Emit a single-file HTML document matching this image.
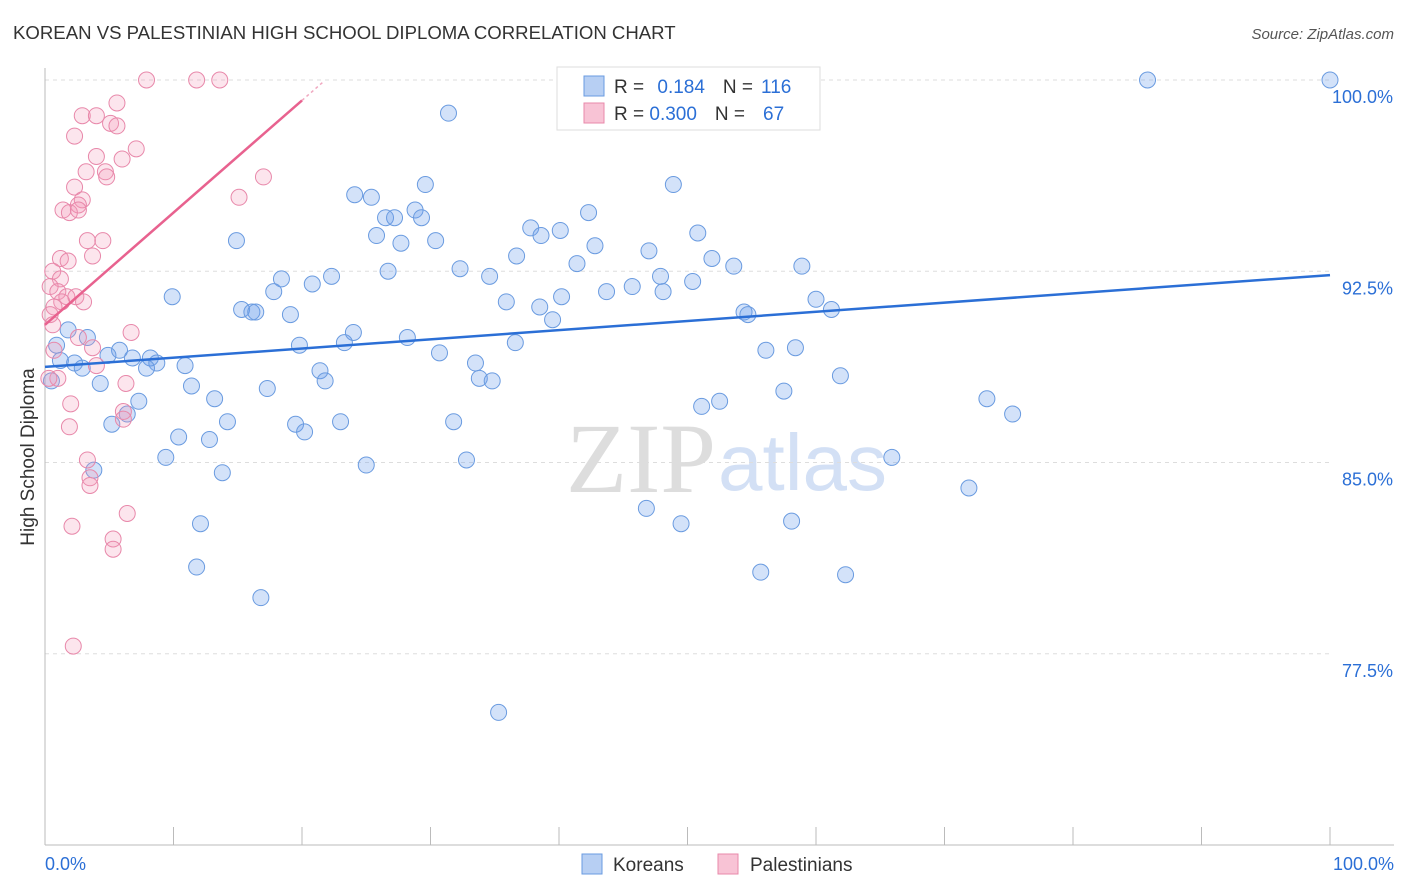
<!DOCTYPE html>
<html><head><meta charset="utf-8"><style>
body{margin:0;background:#fff;font-family:"Liberation Sans",sans-serif}
#wrap{position:relative;width:1406px;height:892px;overflow:hidden}
</style></head><body>
<div id="wrap">
<svg id="svg" width="1406" height="892" xmlns="http://www.w3.org/2000/svg">
<text x="13" y="39" font-size="18.6" fill="#333">KOREAN VS PALESTINIAN HIGH SCHOOL DIPLOMA CORRELATION CHART</text>
<text x="1394" y="39" font-size="15" fill="#555" text-anchor="end" font-style="italic">Source: ZipAtlas.com</text>
<text x="716" y="492" font-size="100" fill="#ddd" text-anchor="end" font-family="Liberation Serif">ZIP</text>
<text x="718" y="490" font-size="80" fill="#d3e0f5">atlas</text>
<text transform="translate(34,457) rotate(-90)" font-size="19" fill="#333" text-anchor="middle">High School Diploma</text>
<g id="grid"></g><g id="ticks"></g><g id="marks"></g><g id="trends"></g>
<g>
<rect x="557" y="67" width="263" height="63" fill="#fff" stroke="#ddd"/>
<rect x="584" y="76" width="20" height="20" fill="#b7cff3" stroke="#6a9be0"/>
<rect x="584" y="103" width="20" height="20" fill="#f8c3d5" stroke="#e888aa"/>
<text x="614" y="93" font-size="19" fill="#333">R = <tspan fill="#2b6fd6" dx="8">0.184</tspan><tspan fill="#333" dx="18">N =</tspan><tspan fill="#2b6fd6" dx="8">116</tspan></text>
<text x="614" y="120" font-size="19" fill="#333">R = <tspan fill="#2b6fd6">0.300</tspan><tspan fill="#333" dx="18">N =</tspan><tspan fill="#2b6fd6" dx="18">67</tspan></text>
</g>
<g>
<rect x="582" y="854" width="20" height="20" fill="#b7cff3" stroke="#6a9be0"/>
<text x="613" y="871" font-size="19" fill="#333">Koreans</text>
<rect x="718" y="854" width="20" height="20" fill="#f8c3d5" stroke="#e888aa"/>
<text x="750" y="871" font-size="19" fill="#333">Palestinians</text>
</g>
</svg>
</div>
<script>
const yTicks=[100,92.5,85,77.5];
const yTickLabels=["100.0%","92.5%","85.0%","77.5%"];
const xTickLabels=["0.0%","100.0%"];
const koreanX=[85.8,100,31.4,48.9,29.6,24.1,25.4,26.5,27.2,28.8,29.3,42.3,37.8,40.1,38.6,25.8,27.7,30.4,14.9,42.8,50.8,47.0,36.7,51.9,26.7,32.3,34.6,41.4,53.6,58.9,22.3,18.4,20.8,17.8,47.9,50.4,45.7,43.7,48.1,40.2,35.9,38.5,39.5,60.0,61.2,9.9,15.3,16.1,16.4,19.1,54.4,54.7,24.0,28.2,23.3,19.8,36.6,30.7,56.1,58.4,1.8,3.3,0.9,5.8,6.8,8.2,8.7,4.9,7.9,2.3,2.9,10.9,21.4,33.5,33.8,34.8,21.8,4.3,11.4,17.3,61.9,57.5,52.5,51.1,13.2,7.3,6.4,5.2,14.2,10.4,12.8,19.5,20.2,23.0,31.8,73.3,75.3,9.4,13.8,3.8,25.0,32.8,65.9,71.9,46.8,49.5,58.1,12.1,11.8,55.7,62.3,16.8,35.3,0.5,1.2];
const koreanY=[100,100,98.7,95.9,95.9,95.5,95.4,94.6,94.6,94.9,94.6,94.8,94.2,94.1,93.9,93.9,93.6,93.7,93.7,93.5,94.0,93.3,93.1,93.0,92.5,92.6,92.3,92.8,92.7,92.7,92.3,92.2,92.0,91.7,92.3,92.1,91.9,91.7,91.7,91.5,91.3,91.1,90.6,91.4,91.0,91.5,91.0,90.9,90.9,90.8,90.9,90.8,90.1,89.9,89.7,89.6,89.7,89.3,89.4,89.5,90.2,89.9,89.6,89.4,89.1,89.1,88.9,89.2,88.7,88.9,88.7,88.8,88.6,88.9,88.3,88.2,88.2,88.1,88.0,87.9,88.4,87.8,87.4,87.2,87.5,87.4,86.9,86.5,86.6,86.0,85.9,86.5,86.2,86.6,86.6,87.5,86.9,85.2,84.6,84.7,84.9,85.1,85.2,84.0,83.2,82.6,82.7,82.6,80.9,80.7,80.6,79.7,75.2,88.2,89.0];
const palX=[7.9,11.8,13.6,5.6,2.9,4.0,5.1,5.6,2.3,7.1,4.0,6.0,3.2,4.7,4.8,17.0,2.3,15.1,2.9,2.6,1.4,1.9,2.6,3.3,4.5,1.2,3.7,1.8,0.6,1.2,0.4,1.0,1.7,2.4,3.0,1.3,0.7,0.4,0.6,6.7,2.6,3.7,0.7,4.0,1.0,0.3,6.3,2.0,6.1,6.1,1.9,3.3,3.5,3.5,6.4,2.1,5.3,5.3,2.2];
const palY=[100,100,100,99.1,98.6,98.6,98.3,98.2,97.8,97.3,97.0,96.9,96.4,96.4,96.2,96.2,95.8,95.4,95.3,95.1,94.9,94.8,94.9,93.7,93.7,93.0,93.1,92.9,92.5,92.2,91.9,91.7,91.5,91.5,91.3,91.3,91.1,90.8,90.4,90.1,89.9,89.5,89.4,88.8,88.3,88.3,88.1,87.3,87.0,86.7,86.4,85.1,84.4,84.1,83.0,82.5,82.0,81.6,77.8];
const koreanTrend=[88.75,92.35]; // y at x=0 and x=100
const palTrend=[90.4,99.2];      // y at x=0 and x=20

const X0=45,X1=1330,Y0=80,Y1=845,YMIN=70,YMAX=100;
const sx=v=>X0+(v/100)*(X1-X0);
const sy=v=>Y0+(YMAX-v)/(YMAX-YMIN)*(Y1-Y0);
const NS="http://www.w3.org/2000/svg";
function mk(tag,parent,attrs){const e=document.createElementNS(NS,tag);for(const k in attrs)e.setAttribute(k,attrs[k]);document.getElementById(parent).appendChild(e);return e;}

yTicks.forEach((t,i)=>{
  const l=mk('line','grid',{x1:X0,x2:X1,y1:sy(t),y2:sy(t),stroke:'#ddd','stroke-dasharray':'4,4'});
  
  
  const tx=mk('text','ticks',{x:1393,y:sy(t)+23,'font-size':18,fill:'#2b6fd6','text-anchor':'end'});
  tx.textContent=yTickLabels[i];
  
  
});
let ax=mk('line','grid',{x1:X0,x2:X0,y1:68,y2:Y1,stroke:'#bbb'});


ax=mk('line','grid',{x1:X0,x2:1394,y1:Y1,y2:Y1,stroke:'#bbb'});


for(let i=0;i<=10;i++){
  const t=mk('line','grid',{x1:sx(i*10),x2:sx(i*10),y1:Y1,y2:Y1-18,stroke:'#bbb'});
  
  
}
[[0,'start',45],[100,'end',1394]].forEach((d,i)=>{
  const tx=mk('text','ticks',{x:d[2],y:870,'font-size':18,fill:'#2b6fd6','text-anchor':d[1]});
  tx.textContent=xTickLabels[i];
  
  
});
koreanX.forEach((x,i)=>{
  const c=mk('circle','marks',{cx:sx(x),cy:sy(koreanY[i]),r:8,fill:'rgba(110,160,235,0.3)',stroke:'#6a9be0','stroke-width':1});
  
  
});
palX.forEach((x,i)=>{
  const c=mk('circle','marks',{cx:sx(x),cy:sy(palY[i]),r:8,fill:'rgba(245,150,185,0.25)',stroke:'#e888aa','stroke-width':1});
  
  
});
let tl=mk('line','trends',{x1:sx(0),y1:sy(koreanTrend[0]),x2:sx(100),y2:sy(koreanTrend[1]),stroke:'#2b6fd6','stroke-width':2.5});


tl=mk('line','trends',{x1:sx(0),y1:sy(palTrend[0]),x2:sx(20),y2:sy(palTrend[1]),stroke:'#e8628f','stroke-width':2.5});


const slope=(palTrend[1]-palTrend[0])/20;
tl=mk('line','trends',{x1:sx(20),y1:sy(palTrend[1]),x2:sx(21.7),y2:sy(palTrend[1]+slope*1.7),stroke:'#f0a8c0','stroke-width':1.5,'stroke-dasharray':'3,3'});


</script>
</body></html>
